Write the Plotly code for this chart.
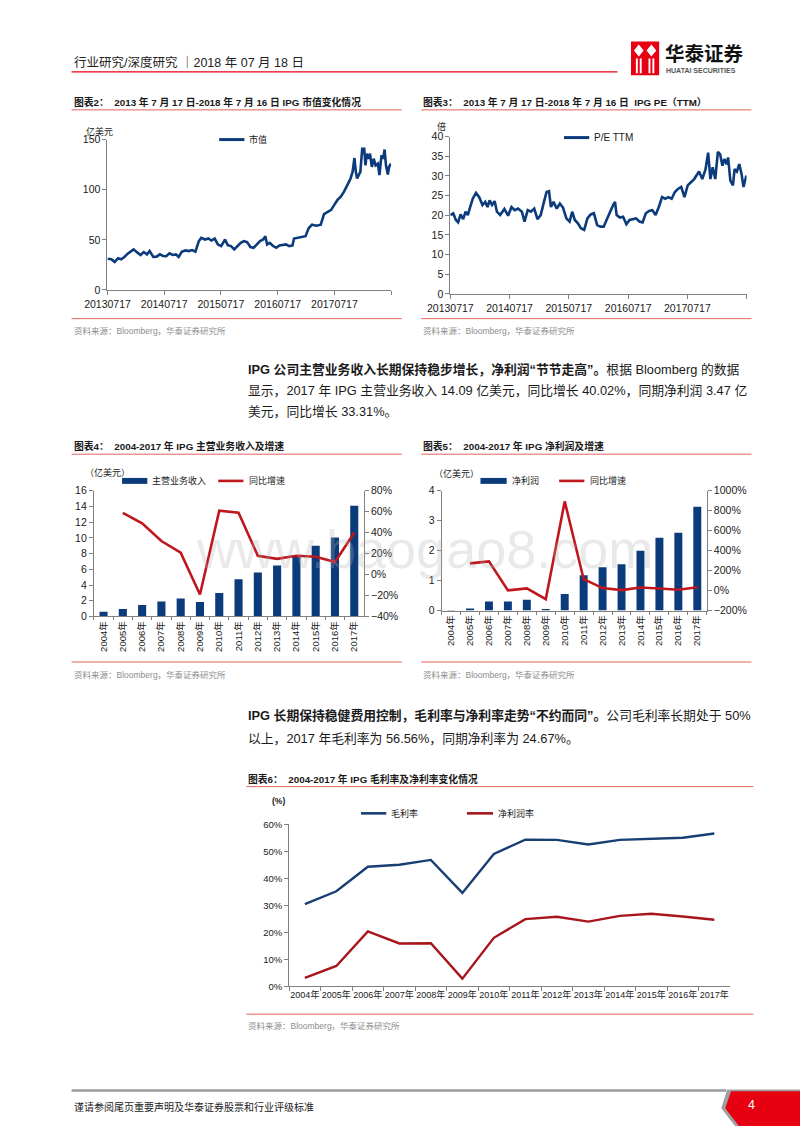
import plotly.graph_objects as go

# ---------------- data ----------------
mc_dates = ["2013-07-17","2013-08-11","2013-09-01","2013-09-23","2013-10-13","2013-11-03","2013-11-24","2013-12-15",
            "2014-01-01","2014-01-26","2014-02-15","2014-03-07","2014-03-28","2014-04-14","2014-05-08","2014-05-29",
            "2014-06-19","2014-07-10","2014-07-30","2014-08-20","2014-09-10","2014-10-01","2014-10-18","2014-11-08",
            "2014-12-02","2014-12-23","2015-01-13","2015-02-03","2015-02-25","2015-03-13","2015-04-06","2015-04-27",
            "2015-05-17","2015-06-07","2015-06-28","2015-07-19","2015-08-13","2015-08-30","2015-09-20","2015-10-11",
            "2015-11-01","2015-11-22","2015-12-12","2016-01-02","2016-01-23","2016-02-13","2016-03-05","2016-03-25",
            "2016-04-15","2016-04-28","2016-05-10","2016-05-27","2016-06-17","2016-07-08","2016-07-28","2016-08-18",
            "2016-09-08","2016-09-29","2016-10-20","2016-10-30","2016-12-01","2016-12-21","2017-01-12","2017-02-02",
            "2017-02-23","2017-03-24","2017-04-20","2017-05-11","2017-06-05","2017-06-26","2017-07-16","2017-08-06",
            "2017-08-27","2017-09-17","2017-10-08","2017-10-29","2017-11-11","2017-11-23","2017-12-02","2017-12-10",
            "2017-12-31","2018-01-12","2018-01-25","2018-02-02","2018-02-10","2018-02-21","2018-03-03","2018-03-15",
            "2018-03-27","2018-04-08","2018-04-23","2018-05-03","2018-05-16","2018-05-28","2018-06-05","2018-06-14",
            "2018-06-26","2018-07-04","2018-07-16"]
mc_values = [31.2,30.6,28.0,31.6,30.6,32.9,36.2,38.8,40.5,37.2,34.9,37.8,35.5,38.8,32.9,33.2,35.5,33.9,33.6,36.5,
             34.9,35.5,32.9,38.2,39.5,38.8,39.8,38.2,48.7,52.0,50.3,51.3,49.3,51.3,45.4,43.8,50.3,44.7,43.8,40.5,
             43.8,47.0,48.7,47.7,42.8,42.1,45.4,48.7,50.3,53.6,45.4,47.0,43.8,42.1,44.4,44.7,45.4,43.8,44.4,51.3,
             52.0,52.6,53.6,61.8,65.1,64.1,65.1,75.7,77.6,79.9,84.9,89.8,93.1,98.0,104.6,111.2,117.8,131.6,117.8,111.2,
             117.8,140.8,140.8,124.3,135.9,130.9,135.9,122.7,130.9,124.3,126.0,114.5,134.2,130.9,140.1,124.3,115.1,122.7,126.0]

pe_dates = ["2013-07-17","2013-08-04","2013-08-20","2013-09-03","2013-09-18","2013-10-04","2013-10-19","2013-11-02",
            "2013-11-16","2013-12-02","2013-12-22","2014-01-11","2014-01-31","2014-02-17","2014-03-03","2014-03-16",
            "2014-03-31","2014-04-16","2014-04-30","2014-05-20","2014-06-15","2014-07-08","2014-07-29","2014-08-18",
            "2014-09-07","2014-10-01","2014-10-17","2014-11-06","2014-11-26","2014-12-16","2015-01-05","2015-01-25",
            "2015-02-14","2015-03-02","2015-03-17","2015-03-29","2015-04-14","2015-05-04","2015-05-23","2015-06-12",
            "2015-07-02","2015-07-22","2015-08-07","2015-08-23","2015-09-10","2015-09-30","2015-10-20","2015-11-09",
            "2015-11-29","2015-12-19","2016-01-08","2016-01-28","2016-02-17","2016-03-08","2016-03-28","2016-04-17",
            "2016-04-27","2016-05-07","2016-05-27","2016-06-16","2016-07-06","2016-07-26","2016-08-15","2016-09-04",
            "2016-09-24","2016-10-14","2016-11-03","2016-11-23","2016-12-13","2017-01-02","2017-01-22","2017-02-11",
            "2017-03-03","2017-03-22","2017-04-11","2017-05-01","2017-05-20","2017-06-09","2017-06-29","2017-07-19",
            "2017-08-08","2017-08-28","2017-09-17","2017-09-27","2017-10-17","2017-11-06","2017-11-22","2017-12-06",
            "2017-12-20","2018-01-05","2018-01-21","2018-02-04","2018-02-18","2018-03-02","2018-03-16","2018-03-25",
            "2018-04-08","2018-04-24","2018-05-04","2018-05-18","2018-06-02","2018-06-16","2018-06-28","2018-07-08",
            "2018-07-16"]
pe_values = [20.05,20.5,18.8,18.2,20.2,19.0,20.9,20.05,22.1,24.2,25.7,24.6,22.6,23.4,22.1,23.8,22.6,23.6,20.9,20.05,
             21.6,19.9,22.1,21.3,21.7,20.9,18.4,21.3,20.9,21.7,19.0,20.05,23.4,25.9,26.1,22.1,23.4,21.7,23.0,21.9,
             19.2,18.4,20.9,18.8,18.0,16.7,16.3,19.2,20.2,20.5,17.5,17.1,17.1,18.8,20.9,22.7,23.4,20.05,19.4,19.6,
             17.7,18.8,19.0,19.2,18.4,18.2,20.5,21.1,21.3,20.05,22.1,24.6,24.2,24.6,24.2,25.9,26.7,27.2,24.6,27.6,
             28.4,29.2,30.5,31.1,29.2,31.7,35.9,29.2,32.2,29.2,36.1,35.5,32.6,34.3,33.0,34.7,28.8,27.6,31.7,31.1,
             33.0,30.5,27.2,29.2,30.1]

date_ticks = ["2013-07-17", "2014-07-17", "2015-07-17", "2016-07-17", "2017-07-17", "2018-07-17"]
date_tick_labels = ["20130717", "20140717", "20150717", "20160717", "20170717", ""]

years = ["2004年", "2005年", "2006年", "2007年", "2008年", "2009年", "2010年",
         "2011年", "2012年", "2013年", "2014年", "2015年", "2016年", "2017年"]
revenue = [0.6, 0.95, 1.45, 1.9, 2.3, 1.85, 3.0, 4.75, 5.6, 6.5, 7.7, 9.0, 10.06, 14.09]
revenue_growth = [None, 59, 49, 32, 21, -19, 61, 59, 18, 15, 18, 17, 12, 40.02]
net_profit = [0.02, 0.07, 0.3, 0.3, 0.36, 0.055, 0.55, 1.18, 1.45, 1.55, 2.0, 2.43, 2.6, 3.47]
profit_growth = [None, 273, 293, 2, 22, -87, 894, 114, 25, 5, 31, 21, 8, 33.31]
gross_margin = [30.5, 35.2, 44.3, 45.0, 46.8, 34.6, 49.0, 54.3, 54.2, 52.5, 54.2, 54.7, 55.0, 56.56]
net_margin = [3.2, 7.6, 20.4, 15.9, 16.0, 2.9, 18.0, 24.9, 25.8, 24.0, 26.1, 26.9, 25.9, 24.67]

# ---------------- styling ----------------
W, H = 800, 1132
FONT = "Liberation Sans, Noto Sans CJK SC, sans-serif"
CJK = "Noto Sans CJK SC, sans-serif"
NAVY = "#0C3B7C"
BLUE6 = "#183F73"
RED = "#C0161E"
RED6 = "#A8161C"
AXIS = "#808080"
TICKC = "#1a1a1a"
RULE = "#E2635C"


def fx(x):
    return x / W


def fy(y):
    return 1 - y / H


annotations = []
shapes = []


def txt(x, y, s, size=10, color="#1a1a1a", anchor="left", family=FONT, yanchor="middle", opacity=1):
    annotations.append(dict(x=fx(x), y=fy(y), xref="paper", yref="paper", text=s, showarrow=False,
                            xanchor=anchor, yanchor=yanchor, opacity=opacity,
                            font=dict(size=size, color=color, family=family)))


def hline(x0, x1, y, color, width=1):
    shapes.append(dict(type="line", xref="paper", yref="paper", x0=fx(x0), x1=fx(x1), y0=fy(y), y1=fy(y),
                       line=dict(color=color, width=width)))


def rect(x0, y0, x1, y1, color):
    shapes.append(dict(type="rect", xref="paper", yref="paper", x0=fx(x0), x1=fx(x1), y0=fy(y1), y1=fy(y0),
                       fillcolor=color, line=dict(width=0)))


def poly(points, color, line_color=None):
    d = "M " + " L ".join(f"{fx(px):.5f},{fy(py):.5f}" for px, py in points) + " Z"
    shapes.append(dict(type="path", xref="paper", yref="paper", path=d, fillcolor=color,
                       line=dict(width=0 if line_color is None else 1, color=line_color or color)))


def dom_x(a, b):
    return [fx(a), fx(b)]


def dom_y(top, bottom):
    return [fy(bottom), fy(top)]


fig = go.Figure()

# ---------------- traces ----------------
fig.add_trace(go.Scatter(x=mc_dates, y=mc_values, mode="lines", line=dict(color=NAVY, width=2.6),
                         xaxis="x", yaxis="y", showlegend=False))
fig.add_trace(go.Scatter(x=pe_dates, y=pe_values, mode="lines", line=dict(color=NAVY, width=2.6),
                         xaxis="x2", yaxis="y2", showlegend=False))
fig.add_trace(go.Bar(x=years, y=revenue, marker=dict(color=NAVY, line=dict(width=0)), width=0.42,
                     xaxis="x3", yaxis="y3", showlegend=False))
fig.add_trace(go.Scatter(x=years, y=revenue_growth, mode="lines", line=dict(color=RED, width=2.6),
                         xaxis="x3", yaxis="y4", showlegend=False))
fig.add_trace(go.Bar(x=years, y=net_profit, marker=dict(color=NAVY, line=dict(width=0)), width=0.42,
                     xaxis="x4", yaxis="y5", showlegend=False))
fig.add_trace(go.Scatter(x=years, y=profit_growth, mode="lines", line=dict(color=RED, width=2.6),
                         xaxis="x4", yaxis="y6", showlegend=False))
fig.add_trace(go.Scatter(x=years, y=gross_margin, mode="lines", line=dict(color=BLUE6, width=2.4),
                         xaxis="x5", yaxis="y7", showlegend=False))
fig.add_trace(go.Scatter(x=years, y=net_margin, mode="lines", line=dict(color=RED6, width=2.4),
                         xaxis="x5", yaxis="y7", showlegend=False))

base_ax = dict(showline=True, linecolor=AXIS, linewidth=1, showgrid=False, zeroline=False,
               ticks="outside", ticklen=4, tickcolor=AXIS, tickfont=dict(size=10.5, color=TICKC, family=FONT))

layout_axes = dict(
    xaxis=dict(base_ax, domain=dom_x(87, 379), anchor="y", type="date",
               range=["2013-07-17", "2018-07-17"], tickmode="array",
               tickvals=date_ticks, ticktext=date_tick_labels, tickangle=0),
    yaxis=dict(base_ax, domain=dom_y(135, 287), anchor="x", range=[0, 150], dtick=50),
    xaxis2=dict(base_ax, domain=dom_x(440, 745), anchor="y2", type="date",
                range=["2013-07-17", "2018-07-17"], tickmode="array",
                tickvals=date_ticks, ticktext=date_tick_labels, tickangle=0),
    yaxis2=dict(base_ax, domain=dom_y(132, 291), anchor="x2", range=[0, 40], dtick=5),
    xaxis3=dict(base_ax, domain=dom_x(73, 351), anchor="y3", type="category", range=[-0.5, 13.5],
                tickangle=-90, tickson="boundaries", ticklen=3,
                tickfont=dict(size=9.5, color=TICKC, family=FONT)),
    yaxis3=dict(base_ax, domain=dom_y(490, 617), anchor="x3", range=[0, 16], dtick=2),
    yaxis4=dict(base_ax, overlaying="y3", side="right", anchor="x3", range=[-40, 80], dtick=20,
                ticksuffix="%"),
    xaxis4=dict(base_ax, domain=dom_x(431, 704), anchor="y5", type="category", range=[-0.5, 13.5],
                tickangle=-90, tickson="boundaries", ticklen=3,
                tickfont=dict(size=9.5, color=TICKC, family=FONT)),
    yaxis5=dict(base_ax, domain=dom_y(490, 611), anchor="x4", range=[0, 4], dtick=1),
    yaxis6=dict(base_ax, overlaying="y5", side="right", anchor="x4", range=[-200, 1000], dtick=200,
                ticksuffix="%"),
    xaxis5=dict(base_ax, domain=dom_x(274, 728), anchor="y7", type="category", range=[-0.5, 13.5],
                tickson="boundaries", ticklen=4, tickangle=0,
                tickfont=dict(size=9, color=TICKC, family=FONT)),
    yaxis7=dict(base_ax, domain=dom_y(827, 991), anchor="x5", range=[0, 60], dtick=10, ticksuffix="%",
                tickfont=dict(size=9.5, color=TICKC, family=FONT)),
)

# ---------------- page header ----------------
txt(50, 57, "行业研究/深度研究 ｜2018 年 07 月 18 日", size=12.5, color="#222", family=FONT)
hline(50, 612, 66.5, "#E60012", 1.2)
# logo
rect(626, 36, 655, 70, "#E60012")
poly([(629, 45), (634, 39), (639, 45), (634, 51)], "white")
poly([(642, 45), (647, 39), (652, 45), (647, 51)], "white")
rect(631, 53, 633, 68, "white")
rect(635, 53, 637, 68, "white")
rect(644, 53, 646, 68, "white")
rect(648, 53, 650, 68, "white")
txt(659, 47, "<b>华泰证券</b>", size=19.5, color="#111", family=CJK)
txt(660, 65, "<b>HUATAI SECURITIES</b>", size=7, color="#555", family=FONT)

# ---------------- chart 2 ----------------
txt(50, 97, "<b>图表2：  2013 年 7 月 17 日-2018 年 7 月 16 日 IPG 市值变化情况</b>", size=9.8)
hline(50, 390, 105, RULE, 1)
txt(63, 127, "亿美元", size=9, family=CJK)
hline(202, 228, 135, NAVY, 3)
txt(231, 135, "市值", size=9, family=CJK)
hline(50, 390, 316, RULE, 1)
txt(50, 328, "资料来源：Bloomberg，华泰证券研究所", size=8.5, color="#8c8c8c")

# ---------------- chart 3 ----------------
txt(410, 97, "<b>图表3：  2013 年 7 月 17 日-2018 年 7 月 16 日  IPG PE（TTM）</b>", size=9.8)
hline(410, 750, 105, RULE, 1)
txt(424, 122, "倍", size=9, family=CJK)
hline(557, 583, 133, NAVY, 3)
txt(586, 133, "P/E TTM", size=10, family=FONT)
hline(410, 750, 316, RULE, 1)
txt(410, 328, "资料来源：Bloomberg，华泰证券研究所", size=8.5, color="#8c8c8c")

# ---------------- paragraph 1 ----------------
txt(230, 367, "<b>IPG 公司主营业务收入长期保持稳步增长，净利润“节节走高”。</b>根据 Bloomberg 的数据", size=12.8)
txt(230, 389, "显示，2017 年 IPG 主营业务收入 14.09 亿美元，同比增长 40.02%，同期净利润 3.47 亿", size=12.8)
txt(230, 410, "美元，同比增长 33.31%。", size=12.8)

# ---------------- chart 4 ----------------
txt(50, 445, "<b>图表4：  2004-2017 年 IPG 主营业务收入及增速</b>", size=9.8)
hline(50, 390, 453, RULE, 1)
txt(62, 471, "（亿美元）", size=9, family=CJK)
rect(102, 477, 128, 483, NAVY)
txt(131, 480, "主营业务收入", size=9, family=CJK)
hline(201, 227, 480, RED, 2.6)
txt(231, 480, "同比增速", size=9, family=CJK)
hline(50, 390, 663, RULE, 1)
txt(50, 676, "资料来源：Bloomberg，华泰证券研究所", size=8.5, color="#8c8c8c")

# ---------------- chart 5 ----------------
txt(410, 445, "<b>图表5：  2004-2017 年 IPG 净利润及增速</b>", size=9.8)
hline(410, 750, 453, RULE, 1)
txt(421, 473, "（亿美元）", size=9, family=CJK)
rect(471, 477, 498, 483, NAVY)
txt(501, 480, "净利润", size=9, family=CJK)
hline(552, 578, 480, RED, 2.6)
txt(582, 480, "同比增速", size=9, family=CJK)
hline(410, 750, 663, RULE, 1)
txt(410, 676, "资料来源：Bloomberg，华泰证券研究所", size=8.5, color="#8c8c8c")

# ---------------- paragraph 2 ----------------
txt(230, 717, "<b>IPG 长期保持稳健费用控制，毛利率与净利率走势“不约而同”。</b>公司毛利率长期处于 50%", size=12.8)
txt(230, 740, "以上，2017 年毛利率为 56.56%，同期净利率为 24.67%。", size=12.8)

# ---------------- chart 6 ----------------
txt(230, 781, "<b>图表6：  2004-2017 年 IPG 毛利率及净利率变化情况</b>", size=9.8)
hline(230, 752, 789, RULE, 1)
txt(254, 804, "<b>(%)</b>", size=8.5)
hline(348, 374, 816, BLUE6, 2.6)
txt(377, 816, "毛利率", size=9, family=CJK)
hline(457, 484, 816, RED6, 2.6)
txt(487, 816, "净利润率", size=9, family=CJK)
hline(230, 752, 1019, RULE, 1)
txt(230, 1031, "资料来源：Bloomberg，华泰证券研究所", size=8.5, color="#8c8c8c")

# ---------------- footer ----------------
hline(50, 724, 1096, "#9a9a9a", 2.5)
poly([(725, 1095), (800, 1095), (800, 1132), (733, 1132), (719, 1114)], "#a0a0a0")
poly([(729, 1097), (800, 1097), (800, 1132), (737, 1132), (723, 1114)], "#E60012")
txt(50, 1112, "谨请参阅尾页重要声明及华泰证券股票和行业评级标准", size=10, color="#222", family=CJK)
txt(750, 1111, "4", size=12.5, color="white", anchor="center")

# ---------------- watermark ----------------
txt(413, 549, "www.baogao8.com", size=54, color="rgba(175,175,175,0.28)", anchor="center", family=FONT)

fig.update_layout(
    width=W, height=H, margin=dict(l=0, r=0, t=0, b=0),
    paper_bgcolor="white", plot_bgcolor="rgba(0,0,0,0)",
    showlegend=False, bargap=0.5,
    font=dict(family=FONT, color=TICKC),
    annotations=annotations, shapes=shapes,
    **layout_axes,
)

fig.write_html("out.html", config={"displayModeBar": False, "staticPlot": True},
               post_script="document.body.style.margin='0px';document.body.style.overflow='hidden';")
